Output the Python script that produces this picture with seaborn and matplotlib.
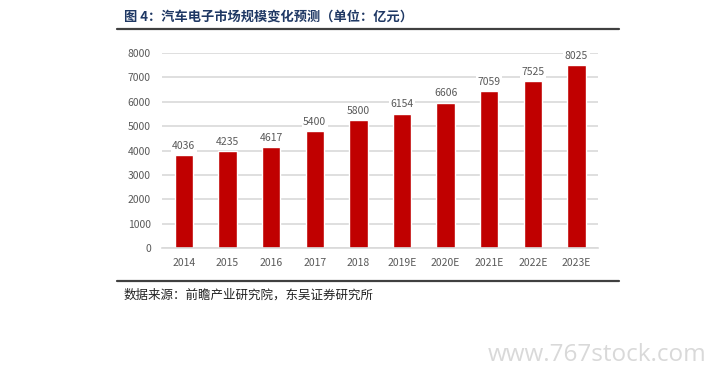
import matplotlib
matplotlib.use('Agg')
import matplotlib.pyplot as plt
import numpy as np
import pandas as pd
import seaborn as sns

# Data (bar heights as drawn in the source, labels as printed)
years = ['2014', '2015', '2016', '2017', '2018', '2019E', '2020E', '2021E', '2022E', '2023E']
bar_heights = [3815, 3980, 4155, 4795, 5245, 5520, 5965, 6430, 6855, 7505]
value_labels = [4036, 4235, 4617, 5400, 5800, 6154, 6606, 7059, 7525, 8025]
yticks = [0, 1000, 2000, 3000, 4000, 5000, 6000, 7000, 8000]

title = '图 4：汽车电子市场规模变化预测（单位：亿元）'
source = '数据来源：前瞻产业研究院，东吴证券研究所'
watermark = 'www.767stock.com'

sns.set_style('white')
plt.rcParams['font.family'] = ['Noto Sans CJK SC', 'DejaVu Sans']

df = pd.DataFrame({'year': years, 'value': bar_heights})

fig = plt.figure(figsize=(7.06, 3.86), dpi=100)
ax = fig.add_axes([0.2295, 0.3575, 0.618, 0.505])

sns.barplot(data=df, x='year', y='value', color='#C00000', saturation=1,
            width=0.42, ax=ax, zorder=2)

ax.set_ylim(0, 8000)
ax.set_yticks(yticks)
ax.set_xlim(-0.5, len(years) - 0.5)
ax.yaxis.grid(True, color='#d9d9d9', linewidth=1.2, zorder=0)
ax.set_axisbelow(True)
for s in ['top', 'right', 'left']:
    ax.spines[s].set_visible(False)
ax.spines['bottom'].set_color('#d9d9d9')
ax.spines['bottom'].set_linewidth(1.2)
ax.set_xlabel('')
ax.set_ylabel('')
ax.tick_params(axis='both', length=0, labelsize=7.5, labelcolor='#595959')
ax.tick_params(axis='x', pad=7)
ax.tick_params(axis='y', pad=8)

for i, (h, v) in enumerate(zip(bar_heights, value_labels)):
    ax.annotate(str(v), (i, h), xytext=(0, 3), textcoords='offset points',
                ha='center', va='bottom', fontsize=7.5, color='#595959',
                bbox=dict(boxstyle='square,pad=0.15', fc='white', ec='none'),
                annotation_clip=False, zorder=3)

# Title, rules and source
fig.text(124 / 706, 1 - 17 / 386, title, fontsize=9.5, fontweight='bold',
         color='#1F3864', ha='left', va='center')
fig.add_artist(plt.Line2D([117 / 706, 619 / 706], [1 - 29 / 386, 1 - 29 / 386],
                          color='#404040', linewidth=1.6))
fig.add_artist(plt.Line2D([117 / 706, 619 / 706], [1 - 281 / 386, 1 - 281 / 386],
                          color='#404040', linewidth=1.6))
fig.text(124 / 706, 1 - 295 / 386, source, fontsize=9, color='#222222',
         ha='left', va='center')
fig.text(706 / 706, 1 - 355 / 386, watermark, fontsize=17.5, color='#d9d9d9',
         ha='right', va='center', family=['Open Sans', 'DejaVu Sans'])

fig.savefig('out.png', dpi=100)
